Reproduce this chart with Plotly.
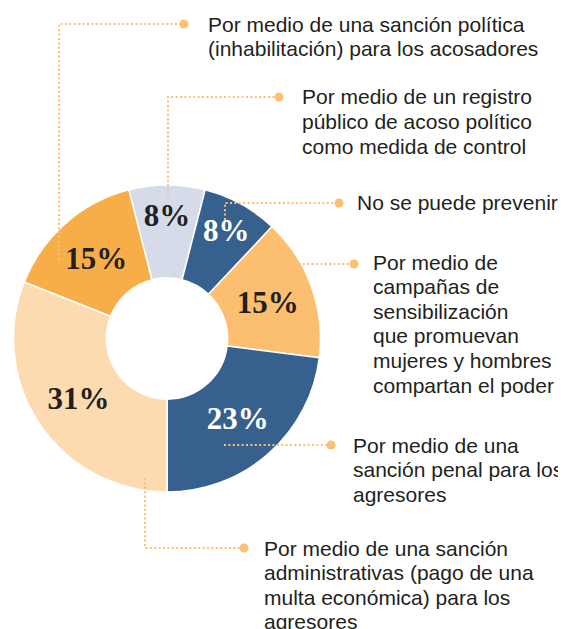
import plotly.graph_objects as go

W, H = 566, 629
OFF = 8  # page body margin, figure is shrunk and shifted so it fits the window

# data (clockwise from the top slice)
categories = [
    'Por medio de un registro<br>público de acoso político<br>como medida de control',
    'No se puede prevenir',
    'Por medio de<br>campañas de<br>sensibilización<br>que promuevan<br>mujeres y hombres<br>compartan el poder',
    'Por medio de una<br>sanción penal para los<br>agresores',
    'Por medio de una sanción<br>administrativas (pago de una<br>multa económica) para los<br>agresores',
    'Por medio de una sanción política<br>(inhabilitación) para los acosadores',
]
values = [8, 8, 15, 23, 31, 15]
colors = ['#D6DBEA', '#36608D', '#FCBE6F', '#36608D', '#FDDBB0', '#F8AE48']
text_colors = ['#231F20', '#FFFFFF', '#231F20', '#FFFFFF', '#231F20', '#231F20']

ORANGE = '#FDBF70'
TXT = '#231F20'

FW, FH = W - OFF, H - OFF


def px(x):
    return (x - OFF) / FW


def py(y):
    return 1 - (y - OFF) / FH


pie = go.Pie(
    labels=categories,
    values=values,
    sort=False,
    direction='clockwise',
    rotation=-14.4,
    hole=0.395,
    marker=dict(colors=colors, line=dict(color='white', width=1.5)),
    texttemplate='%{value}%',
    textposition='inside',
    insidetextorientation='horizontal',
    textfont=dict(family='Liberation Serif', size=31, color=text_colors, weight='bold'),
    domain=dict(x=[px(13), px(321)], y=[py(492), py(185)]),
    showlegend=False,
    hoverinfo='label+percent',
)

# label blocks: (left x, first line centre y) in pixels, same order as categories
label_pos = [(300, 97), (355, 202), (371, 262), (351, 445), (262, 548), (206, 24)]
line_gap = 24.6

# leader lines: polyline points and end dot, same order
leaders = [
    ([(168, 195), (168, 97), (279, 97)], (279, 97)),
    ([(225, 220), (225, 203), (339, 203)], (339, 203)),
    ([(272, 264), (354, 264)], (354, 264)),
    ([(224, 445), (331, 445)], (331, 445)),
    ([(145, 478), (145, 548), (244, 548)], (244, 548)),
    ([(59, 260), (59, 24), (184, 24)], (184, 24)),
]

annotations = []
for cat, (lx, ly) in zip(categories, label_pos):
    for i, line in enumerate(cat.split('<br>')):
        annotations.append(dict(
            x=px(lx), y=py(ly + i * line_gap), xref='paper', yref='paper',
            xanchor='left', yanchor='middle', showarrow=False, text=line,
            font=dict(family='Liberation Sans, Arial', size=21, color=TXT),
        ))

shapes = []
for pts, (dx, dy) in leaders:
    path = 'M ' + ' L '.join('%f,%f' % (px(x), py(y)) for x, y in pts)
    shapes.append(dict(type='path', path=path, xref='paper', yref='paper',
                       line=dict(color=ORANGE, width=2, dash='2px,2.4px'), layer='above'))
    r = 4.5
    shapes.append(dict(type='circle', xref='paper', yref='paper',
                       x0=px(dx - r), x1=px(dx + r), y0=py(dy + r), y1=py(dy - r),
                       fillcolor=ORANGE, line=dict(width=0), layer='above'))

layout = go.Layout(
    width=FW, height=FH,
    margin=dict(l=0, r=0, t=0, b=0),
    paper_bgcolor='white',
    plot_bgcolor='white',
    annotations=annotations,
    shapes=shapes,
)

fig = go.Figure(data=[pie], layout=layout)
fig.write_html('out.html')
